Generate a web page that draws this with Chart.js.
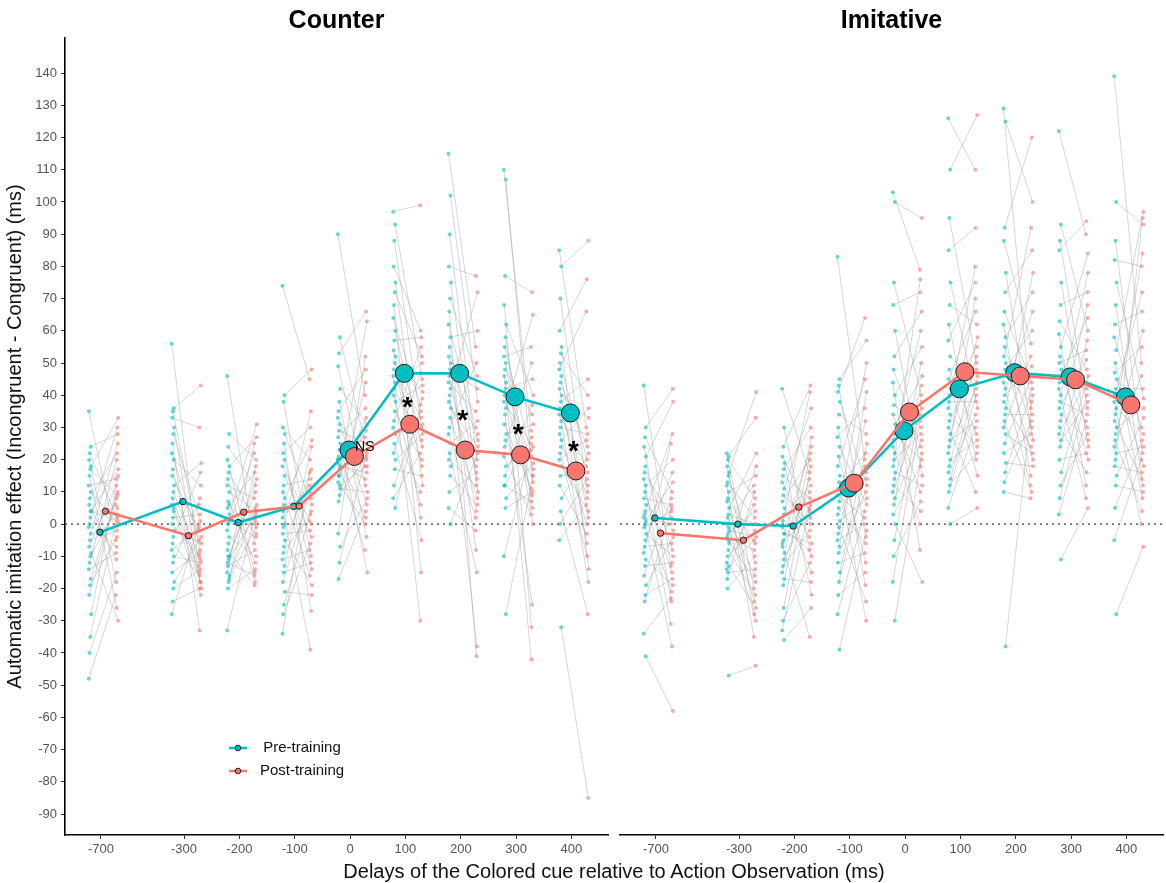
<!DOCTYPE html>
<html>
<head>
<meta charset="utf-8">
<title>Automatic imitation effect by delay</title>
<script src="https://cdn.jsdelivr.net/npm/chart.js@4.4.1/dist/chart.umd.min.js"></script>
<style>
  html, body { margin: 0; padding: 0; background: #fff; }
  #wrap { position: relative; width: 1166px; height: 883px; overflow: hidden; }
  #counter { position: absolute; left: 0; top: 0; }
  #imitative { position: absolute; left: 612px; top: 0; }
  #xtitle {
    position: absolute; left: 65px; width: 1098px; top: 860px;
    text-align: center; line-height: 24px; color: #111;
    font: 20px "Liberation Sans", Arial, Helvetica, sans-serif;
  }
</style>
</head>
<body>
<div id="wrap">
  <canvas id="counter" width="612" height="883"></canvas>
  <canvas id="imitative" width="554" height="883"></canvas>
  <div id="xtitle">Delays of the Colored cue relative to Action Observation (ms)</div>
</div>
<script>
// delays (ms) and where each one sits on the axis (-700 is pulled in to 1.5 steps)
const delays = [-700, -300, -200, -100, 0, 100, 200, 300, 400];
const delayPos = [-450, -300, -200, -100, 0, 100, 200, 300, 400];
const yTicks = [-90, -80, -70, -60, -50, -40, -30, -20, -10, 0, 10, 20, 30, 40, 50, 60, 70, 80, 90, 100, 110, 120, 130, 140];

// group means
const counterPre = [-2.5, 7, 0.5, 5.5, 23, 46.8, 46.8, 39.5, 34.5];
const counterPost = [4, -3.6, 3.7, 5.6, 21, 31, 23, 21.5, 16.5];
const counterBig = [0, 0, 0, 0, 1, 1, 1, 1, 1];
const imitativePre = [1.9, 0, -0.6, 11.2, 29, 42, 47, 45.7, 39.5];
const imitativePost = [-2.8, -5, 5.3, 12.7, 34.8, 47.3, 46, 44.8, 37];
const imitativeBig = [0, 0, 0, 1, 1, 1, 1, 1, 1];

// significance labels, Counter panel
const counterMarks = ['NS', '*', '*', '*', '*'];
const counterMarkDelay = [0, 100, 200, 300, 400];
const counterMarkY = [24, 38.5, 34.5, 30, 25];

// single participants: pre[i][j] pairs with post[i][j]
const counterPreSubj = [
  [35, 24, 22, 20, 18, 17, 15, 12, 10, 8, 6, 4, 2, 0, -1, -3, -5, -7, -9, -10, -12, -14, -17, -19, -22, -28, -35, -40, -48, 4],
  [56, 36, 35, 33, 30, 28, 25, 22, 20, 17, 15, 12, 10, 8, 6, 4, 2, 0, -2, -4, -6, -8, -10, -12, -15, -18, -20, -24, -28, 5],
  [46, 28, 24, 20, 18, 16, 14, 12, 10, 7, 5, 3, 1, 0, -2, -4, -6, -8, -10, -11, -13, -15, -17, -10, -12, -16, -18, -20, -33, 6],
  [74, 40, 38, 30, 28, 25, 22, 18, 15, 12, 10, 8, 6, 4, 2, 0, -1, -3, -5, -7, -9, -11, -13, -15, -18, -21, -25, -28, -34, 20],
  [90, 58, 53, 49, 42, 38, 35, 33, 31, 29, 27, 25, 23, 21, 19, 17, 15, 13, 11, 9, 7, 20, 18, 15, -3, -7, -12, -17, 20, 12],
  [97, 93, 88, 80, 75, 72, 68, 64, 60, 57, 54, 52, 50, 48, 46, 44, 42, 40, 38, 35, 32, 30, 28, 25, 22, 20, 17, 12, 8, 5],
  [115, 102, 90, 80, 75, 70, 66, 62, 58, 55, 52, 50, 48, 46, 44, 42, 40, 38, 36, 33, 30, 28, 25, 22, 20, 18, 15, 10, 5, 0],
  [110, 107, 77, 68, 62, 58, 55, 52, 50, 48, 46, 44, 42, 40, 38, 36, 34, 31, 28, 26, 24, 21, 18, 15, 12, 8, 5, 12, -10, -28],
  [85, 80, 70, 60, 55, 53, 50, 48, 46, 44, 42, 40, 38, 36, 34, 32, 30, 28, 26, 24, 22, 20, 18, 15, 12, 8, 4, 0, -5, -32]
];
const counterPostSubj = [
  [-5, 28, 2, -18, 33, 9, -26, 14, 0, 22, -11, 17, 30, -7, 6, 25, -2, 12, -30, 5, 20, -9, 10, -4, 8, 15, 3, -15, -22, 1],
  [-13, 43, -8, 30, -20, 1, -33, -5, 12, -18, -2, 19, -11, -15, 6, -22, 3, -10, -6, 16, -16, -1, -12, 8, -9, -4, -14, -20, 0, -18],
  [-6, 20, 12, -15, 27, 1, -18, 8, 4, -12, 16, 31, -4, 0, 22, -10, 5, -19, 14, 3, -8, 25, -1, 10, -16, 6, 18, -14, 2, -3],
  [45, 48, -10, 20, 6, -27, 30, 1, -4, 14, -16, 26, 8, -39, 12, 0, 35, -2, -19, 17, 3, -8, 24, -12, 10, -22, 4, -6, 16, -14],
  [40, 23, 66, 12, 31, -4, 48, 18, 6, 25, 36, -15, 20, 2, 14, 63, 29, 0, 10, 21, 44, -8, 16, 33, 52, 8, 22, 4, 27, 18],
  [99, 45, 30, 60, 12, 52, -15, 37, 24, 58, 2, 41, 18, 33, -30, 50, 26, 6, 43, 20, 55, 10, 31, -5, 47, 28, 15, 35, 22, 39],
  [55, 38, 20, 77, 10, 46, -41, 30, 60, 14, -8, 26, 42, 4, 35, 72, -38, 18, 24, 8, 50, 2, 32, -15, 12, 28, 6, 16, -2, 22],
  [29, 13, 72, -32, 40, 5, 21, 55, 0, 34, -42, 17, 45, 9, 25, 65, -25, 11, 31, 15, 50, 3, 24, 37, 7, 19, 10, 27, 23, 15],
  [30, 88, 10, 76, -14, 40, 20, 66, 2, 24, -6, 33, 45, 8, 18, -18, 28, 0, 36, 12, -10, 26, 4, 16, -3, 22, -28, 14, 6, -85]
];
const imitativePreSubj = [
  [43, 30, 27, 24, 21, 18, 16, 14, 12, 10, 8, 6, 4, 3, 2, 1, 0, -1, -3, -5, -7, -9, -11, -13, -16, -19, -22, -24, -34, -41],
  [22, 21, 20, 18, 16, 15, 13, 12, 10, 8, 7, 5, 3, 2, 0, -1, -3, -4, -6, -8, -10, -12, -13, -15, -17, -2, -5, -20, -14, -47],
  [42, 30, 24, 21, 19, 17, 15, 13, 11, 9, 7, 5, 3, 1, -1, -3, -5, -7, -9, -11, -13, -15, -17, -19, -6, -3, -26, -30, -33, -36],
  [83, 45, 43, 41, 38, 34, 30, 27, 24, 21, 18, 15, 13, 11, 9, 7, 5, 3, 1, -1, -3, -5, -7, -9, -12, -15, -18, -22, -28, -39],
  [103, 100, 75, 68, 60, 52, 48, 44, 40, 37, 34, 31, 28, 26, 24, 22, 20, 18, 16, 14, 12, 10, 8, 6, 3, 0, -5, -10, -18, -30],
  [126, 110, 95, 85, 75, 68, 62, 57, 52, 48, 45, 42, 40, 38, 36, 34, 32, 30, 28, 26, 24, 22, 20, 18, 16, 14, 12, 10, 5, 0],
  [129, 125, 92, 88, 78, 72, 66, 62, 58, 55, 52, 50, 48, 46, 44, 42, 40, 38, 36, 34, 32, 30, 28, 25, 22, 19, 16, 13, 10, -38],
  [122, 93, 88, 85, 75, 68, 63, 59, 55, 52, 50, 48, 46, 44, 42, 40, 38, 36, 34, 32, 30, 28, 26, 24, 20, 16, 12, 8, 3, -11],
  [139, 100, 88, 82, 75, 68, 62, 58, 54, 50, 47, 45, 42, 40, 38, 36, 34, 32, 30, 28, 26, 24, 22, 20, 18, 15, 12, 5, -5, -28]
];
const imitativePostSubj = [
  [-13, 42, 10, -24, 38, -8, 2, -31, 20, -15, 6, -2, 28, -21, 0, 13, -38, 4, -10, 16, -6, 25, -19, -12, 8, -4, -17, 5, -23, -58],
  [-20, 33, 8, -28, 41, -12, 2, -35, 15, -6, -24, 22, 0, -16, 12, -30, 4, -8, 18, -22, -2, 6, -26, -14, 10, -4, -18, -10, -5, -44],
  [16, -10, 43, 4, -22, 30, 8, -4, 36, 0, 20, -15, 12, 41, -8, 24, 2, -35, 27, 6, -2, 14, -18, 22, 10, -6, 18, -12, 5, -26],
  [20, 57, -4, 64, 12, 28, -19, 36, 6, -12, 45, 14, -30, 22, 2, 50, -6, 18, 8, -24, 32, 0, 41, 10, -9, 25, 16, -15, 4, -2],
  [79, 95, 40, 72, 15, 66, 24, -8, 55, 30, 10, 46, 20, 60, 0, 36, 28, 76, 12, 43, 4, 34, 26, 50, 18, -18, 38, 7, 32, 22],
  [110, 127, 50, 92, 36, 62, 20, 75, 44, 28, 66, 15, 55, 38, 80, 24, 48, 10, 58, 32, 42, 70, 26, 52, 34, 46, 22, 40, 30, 5],
  [36, 100, 120, 56, 26, 85, 44, 15, 72, 30, 92, 20, 60, 38, 12, 66, 49, 24, 78, 34, 10, 52, 22, 46, 28, 18, 42, 32, 8, 40],
  [90, 60, 36, 94, 24, 72, 48, 12, 84, 30, 54, 20, 64, 42, 8, 78, 34, 51, 26, 68, 16, 44, 38, 57, 22, 46, 28, 40, 32, 5],
  [50, 93, 22, 80, 39, 12, 66, 30, 97, 8, 55, 18, 42, 72, 0, 28, 84, 14, 36, 60, 4, 46, 24, 95, 16, 33, 10, 26, 20, -7]
];

const CYAN = '#00BFC4';
const RED = '#F8766D';
const CYAN_SOFT = 'rgba(0, 191, 196, 0.6)';
const RED_SOFT = 'rgba(248, 118, 109, 0.6)';

// horizontal offsets (axis units) of each layer around its delay
const PRE_MEAN = -2, POST_MEAN = 8;
const PRE_SUBJ = -20, POST_SUBJ = 29;

Chart.defaults.font.family = '"Liberation Sans", Arial, Helvetica, sans-serif';

// small fixed spread so stacked dots don't sit in one pixel column
function jit(j) {
    return ((j * 5) % 7 - 3) * 0.7;
}

function meanPoints(values, shift) {
    return values.map((v, i) => ({ x: delayPos[i] + shift, y: v }));
}

function subjectPoints(cols, shift) {
    const out = [];
    cols.forEach((col, i) => col.forEach((v, j) => {
        out.push({ x: delayPos[i] + shift + jit(j), y: v });
    }));
    return out;
}

function pairLines(pre, post) {
    const out = [];
    pre.forEach((col, i) => col.forEach((v, j) => {
        out.push({ x: delayPos[i] + PRE_SUBJ + jit(j), y: v });
        out.push({ x: delayPos[i] + POST_SUBJ + jit(j), y: post[i][j] });
        out.push({ x: NaN, y: NaN });
    }));
    return out;
}

const zeroLine = {
    id: 'zeroLine',
    beforeDatasetsDraw(chart) {
        const { ctx, chartArea, scales } = chart;
        const py = scales.y.getPixelForValue(0);
        ctx.save();
        ctx.setLineDash([2, 4]);
        ctx.strokeStyle = '#3a3a3a';
        ctx.lineWidth = 1.4;
        ctx.beginPath();
        ctx.moveTo(chartArea.left, py);
        ctx.lineTo(chartArea.right, py);
        ctx.stroke();
        ctx.restore();
    }
};

const counterLabels = {
    id: 'counterLabels',
    afterDatasetsDraw(chart) {
        const { ctx, scales } = chart;
        ctx.save();
        ctx.fillStyle = '#000';
        counterMarks.forEach((t, k) => {
            const px = scales.x.getPixelForValue(delayPos[delays.indexOf(counterMarkDelay[k])]);
            const py = scales.y.getPixelForValue(counterMarkY[k]);
            if (t === 'NS') {
                ctx.font = '14px "Liberation Sans", Arial, sans-serif';
                ctx.textAlign = 'left';
                ctx.textBaseline = 'middle';
                ctx.fillText(t, px + 5, py);
            } else {
                ctx.font = 'bold 28px "Liberation Sans", Arial, sans-serif';
                ctx.textAlign = 'center';
                ctx.textBaseline = 'alphabetic';
                ctx.fillText(t, px + 2, py + 16);
            }
        });
        ctx.restore();
    }
};

const legendKey = {
    id: 'legendKey',
    afterDraw(chart) {
        const { ctx, chartArea } = chart;
        const rows = [['Pre-training', CYAN, 748], ['Post-training', RED, 771]];
        const x0 = chartArea.left + 164;
        ctx.save();
        rows.forEach(([label, color, y]) => {
            ctx.strokeStyle = color;
            ctx.lineWidth = 2.5;
            ctx.beginPath();
            ctx.moveTo(x0, y);
            ctx.lineTo(x0 + 18, y);
            ctx.stroke();
            ctx.beginPath();
            ctx.arc(x0 + 9, y, 2.8, 0, Math.PI * 2);
            ctx.fillStyle = color;
            ctx.fill();
            ctx.lineWidth = 1;
            ctx.strokeStyle = '#222';
            ctx.stroke();
            ctx.fillStyle = '#111';
            ctx.font = '15px "Liberation Sans", Arial, sans-serif';
            ctx.textAlign = 'center';
            ctx.textBaseline = 'middle';
            ctx.fillText(label, x0 + 73, y);
        });
        ctx.restore();
    }
};

function makePanel(id, title, pre, post, big, preSubj, postSubj, withYAxis, extra) {
    const radius = big.map(b => (b ? 9 : 3.2));
    return new Chart(document.getElementById(id), {
        type: 'scatter',
        data: {
            datasets: [
                {
                    type: 'line',
                    data: meanPoints(post, POST_MEAN),
                    borderColor: RED,
                    borderWidth: 2.6,
                    pointRadius: radius,
                    pointBackgroundColor: RED,
                    pointBorderColor: '#1a1a1a',
                    pointBorderWidth: 1,
                    order: 0
                },
                {
                    type: 'line',
                    data: meanPoints(pre, PRE_MEAN),
                    borderColor: CYAN,
                    borderWidth: 2.6,
                    pointRadius: radius,
                    pointBackgroundColor: CYAN,
                    pointBorderColor: '#1a1a1a',
                    pointBorderWidth: 1,
                    order: 1
                },
                {
                    data: subjectPoints(postSubj, POST_SUBJ),
                    backgroundColor: RED_SOFT,
                    borderWidth: 0,
                    pointRadius: 2,
                    order: 2
                },
                {
                    data: subjectPoints(preSubj, PRE_SUBJ),
                    backgroundColor: CYAN_SOFT,
                    borderWidth: 0,
                    pointRadius: 2,
                    order: 3
                },
                {
                    type: 'line',
                    data: pairLines(preSubj, postSubj),
                    borderColor: 'rgba(140, 140, 140, 0.45)',
                    borderWidth: 0.8,
                    pointRadius: 0,
                    spanGaps: false,
                    order: 4
                }
            ]
        },
        options: {
            responsive: false,
            animation: false,
            events: [],
            layout: {
                autoPadding: false,
                padding: withYAxis ? { left: 0, right: 4, top: 0, bottom: 0 } : { left: 8, right: 3, top: 0, bottom: 0 }
            },
            plugins: {
                legend: { display: false },
                tooltip: { enabled: false },
                title: {
                    display: true,
                    fullSize: false,
                    text: title,
                    color: '#000',
                    font: { size: 25, weight: 'bold', lineHeight: 1.2 },
                    padding: { top: 6, bottom: 2 }
                }
            },
            scales: {
                x: {
                    type: 'linear',
                    min: -515,
                    max: 466,
                    afterBuildTicks: (axis) => {
                        axis.ticks = delayPos.map(v => ({ value: v }));
                    },
                    afterFit: (axis) => {
                        axis.height = 48;
                    },
                    ticks: {
                        autoSkip: false,
                        maxRotation: 0,
                        color: '#555',
                        font: { size: 13 },
                        padding: 3,
                        callback: (value, index) => String(delays[index])
                    },
                    grid: { drawOnChartArea: false, tickLength: 4, color: '#333' },
                    border: { color: '#000', width: 1.6 }
                },
                y: {
                    display: withYAxis,
                    min: -96.5,
                    max: 150.9,
                    afterBuildTicks: (axis) => {
                        axis.ticks = yTicks.map(v => ({ value: v }));
                    },
                    afterFit: (axis) => {
                        axis.width = withYAxis ? 65 : 0;
                    },
                    ticks: { color: '#555', font: { size: 13 }, padding: 4 },
                    grid: { drawOnChartArea: false, tickLength: 4, color: '#333' },
                    border: { color: '#000', width: 1.6 },
                    title: {
                        display: true,
                        text: 'Automatic imitation effect (Incongruent - Congruent) (ms)',
                        color: '#111',
                        font: { size: 20 },
                        padding: { top: 3, bottom: 0 }
                    }
                }
            }
        },
        plugins: [zeroLine].concat(extra)
    });
}

document.addEventListener('DOMContentLoaded', () => {
    makePanel('counter', 'Counter', counterPre, counterPost, counterBig,
        counterPreSubj, counterPostSubj, true, [counterLabels, legendKey]);
    makePanel('imitative', 'Imitative', imitativePre, imitativePost, imitativeBig,
        imitativePreSubj, imitativePostSubj, false, []);
});
</script>
</body>
</html>
